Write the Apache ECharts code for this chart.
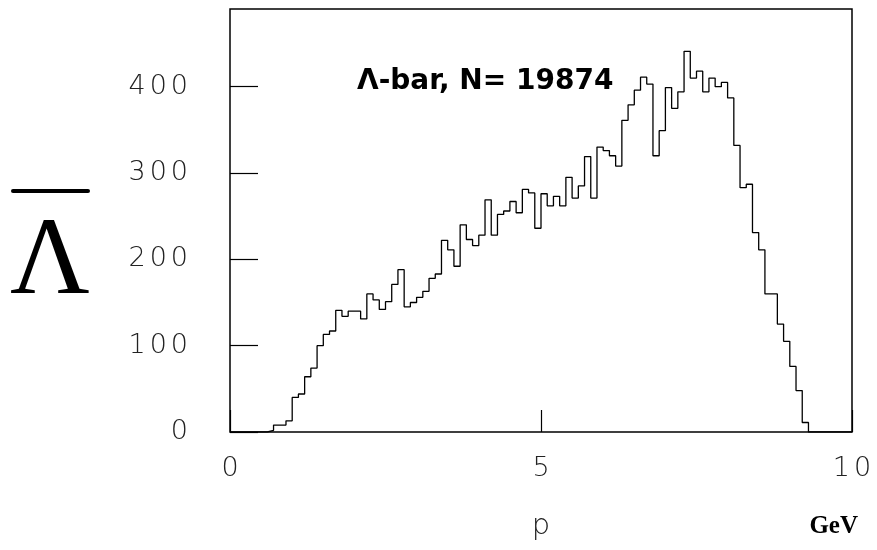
<!DOCTYPE html>
<html>
<head>
<meta charset="utf-8">
<script src="https://cdn.jsdelivr.net/npm/echarts@6/dist/echarts.min.js"></script>
<style>html,body{margin:0;padding:0;background:#fff;}#chart{width:877px;height:550px;}</style>
</head>
<body>
<div id="chart"></div>
<script>
// Histogram: 100 bins of width 0.1 GeV from 0 to 10
var binLow = 0;
var binWidth = 0.1;
var counts = [
  0, 0, 0, 0, 0, 0, 2, 8, 8, 13,
  40, 44, 64, 74, 100, 113, 117, 141, 134, 140,
  140, 131, 160, 153, 142, 151, 171, 188, 145, 150,
  156, 163, 178, 183, 222, 211, 192, 240, 223, 216,
  228, 269, 228, 252, 256, 267, 254, 281, 277, 236,
  276, 262, 273, 262, 295, 271, 285, 319, 271, 330,
  326, 320, 308, 361, 379, 396, 411, 403, 320, 349,
  399, 375, 394, 441, 410, 418, 394, 410, 400, 405,
  387, 332, 283, 287, 231, 211, 160, 160, 125, 105,
  76, 48, 11, 0, 0, 0, 0, 0, 0, 0
];
var yTicks = [0, 100, 200, 300, 400];
var xTicks = [0, 5, 10];
var yMax = 490;
var annotation = '\u039B-bar, N= 19874';

var stepData = [];
for (var i = 0; i < counts.length; i++) {
  stepData.push([binLow + i * binWidth, counts[i]]);
}
stepData.push([binLow + counts.length * binWidth, counts[counts.length - 1]]);

function spaced(s) {
  return String(s).split('').map(function (c) { return '{d|' + c + '}'; }).join('');
}
var digitRich = {d: {fontFamily: 'DejaVu Sans', fontWeight: 200, fontSize: 27, color: '#222', padding: [0, 2, 0, 2]}};

var chart = echarts.init(document.getElementById('chart'));
chart.setOption({
  animation: false,
  backgroundColor: '#fff',
  grid: {left: 230, right: 25, top: 9, bottom: 118, show: true, borderColor: '#000', borderWidth: 1.5, containLabel: false, outerBoundsMode: 'none'},
  xAxis: {
    type: 'value', min: xTicks[0], max: xTicks[xTicks.length - 1], interval: 5,
    axisLine: {show: false},
    axisTick: {show: true, inside: true, length: 22, lineStyle: {color: '#000', width: 1.2}},
    splitLine: {show: false},
    axisLabel: {margin: 23, formatter: function (v) { return xTicks.indexOf(v) >= 0 ? spaced(v) : ''; }, rich: digitRich},
    name: 'p', nameLocation: 'middle', nameGap: 80,
    nameTextStyle: {fontFamily: 'DejaVu Sans', fontWeight: 200, fontSize: 29, color: '#222'}
  },
  yAxis: {
    type: 'value', min: yTicks[0], max: yMax, interval: 100,
    axisLine: {show: false},
    axisTick: {show: true, inside: true, length: 28, lineStyle: {color: '#000', width: 1.2}},
    splitLine: {show: false},
    axisLabel: {margin: 40, showMaxLabel: false,
      formatter: function (v) { return yTicks.indexOf(v) >= 0 ? spaced(v) : ''; }, rich: digitRich}
  },
  series: [{
    type: 'line', step: 'end', data: stepData, symbol: 'none',
    lineStyle: {color: '#000', width: 1.3}
  }],
  graphic: [
    {type: 'text', left: 357, top: 68, style: {text: annotation, font: 'bold 28px "DejaVu Sans"', fill: '#000'}},
    {type: 'text', x: 50, y: 264, style: {text: '\u039B', font: '110px "Liberation Serif"', fill: '#000', align: 'center', verticalAlign: 'middle'}},
    {type: 'line', shape: {x1: 13, y1: 191, x2: 88, y2: 191}, style: {stroke: '#000', lineWidth: 4, lineCap: 'round'}},
    {type: 'text', x: 858, y: 527, style: {text: 'GeV', font: 'bold 25px "Liberation Serif"', fill: '#000', align: 'right', verticalAlign: 'middle'}}
  ]
});
</script>
</body>
</html>
